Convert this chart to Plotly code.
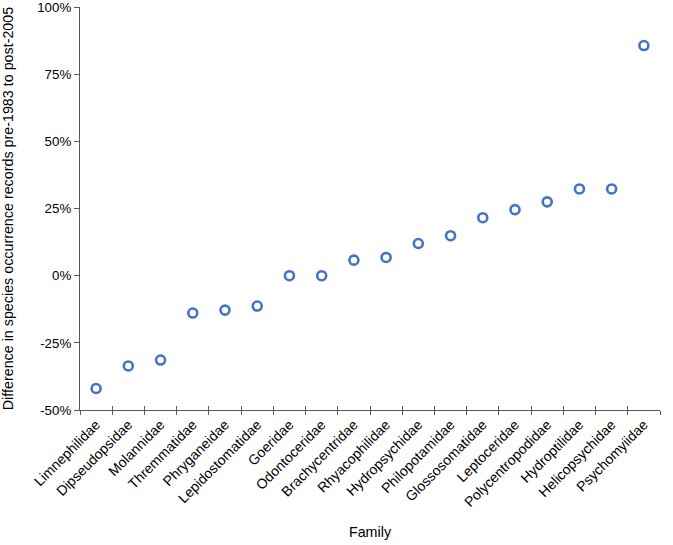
import plotly.graph_objects as go

families = ["Limnephilidae", "Dipseudopsidae", "Molannidae", "Thremmatidae", "Phryganeidae",
            "Lepidostomatidae", "Goeridae", "Odontoceridae", "Brachycentridae", "Rhyacophilidae",
            "Hydropsychidae", "Philopotamidae", "Glossosomatidae", "Leptoceridae",
            "Polycentropodidae", "Hydroptilidae", "Helicopsychidae", "Psychomyiidae"]
difference = [-0.42, -0.336, -0.314, -0.139, -0.128, -0.113, 0.0, 0.0, 0.058, 0.068,
              0.12, 0.149, 0.216, 0.246, 0.275, 0.323, 0.323, 0.857]
y_ticks = [-0.5, -0.25, 0.0, 0.25, 0.5, 0.75, 1.0]
y_tick_labels = ["-50%", "-25%", "0%", "25%", "50%", "75%", "100%"]

FONT = "Liberation Sans, Arial, sans-serif"
AXCOL = "#595959"
xrange = [-0.5, len(families) - 0.5]

fig = go.Figure()
fig.add_trace(go.Scatter(
    x=families, y=difference, mode="markers",
    marker=dict(symbol="circle-open", size=9, color="#4472C4", line=dict(width=2.6, color="#4472C4")),
    showlegend=False, cliponaxis=False,
))
fig.add_trace(go.Scatter(x=families, y=difference, mode="markers", xaxis="x2",
                         marker=dict(opacity=0), showlegend=False, hoverinfo="skip"))

fig.update_layout(
    width=673, height=545,
    margin=dict(l=80, r=13, t=7, b=135),
    paper_bgcolor="white", plot_bgcolor="white",
    font=dict(family=FONT, size=13.3, color="#000000"),
    xaxis=dict(
        type="category", range=xrange, tickson="boundaries", ticks="outside", ticklen=4,
        tickwidth=1.2, tickcolor=AXCOL, showline=True, linecolor=AXCOL, linewidth=1.2,
        showgrid=False, tickangle=-45, tickfont=dict(size=14, family=FONT), automargin=False,
        title=dict(text="Family", standoff=18, font=dict(size=14.3, family=FONT)),
        anchor="y", zeroline=False,
    ),
    xaxis2=dict(
        type="category", range=xrange, overlaying="x", tickson="boundaries", ticks="inside",
        ticklen=4, tickwidth=1.2, tickcolor=AXCOL, showticklabels=False, showline=False,
        showgrid=False, anchor="y", side="bottom", automargin=False,
    ),
    yaxis=dict(
        range=[-0.5, 1.0005], tickmode="array", tickvals=y_ticks, ticktext=y_tick_labels,
        ticks="outside", ticklen=5, automargin=False, ticklabeloverflow="allow",
        tickwidth=1.2, tickcolor=AXCOL, showline=True, linecolor=AXCOL, linewidth=1.2,
        showgrid=False, zeroline=False, tickfont=dict(size=13.3, family=FONT),
        title=dict(text="Difference in species occurrence records pre-1983 to post-2005",
                   standoff=26, font=dict(size=14.3, family=FONT)),
    ),
)

fig.write_html("out.html", config={"displayModeBar": False},
               post_script="document.body.style.margin='0';")
